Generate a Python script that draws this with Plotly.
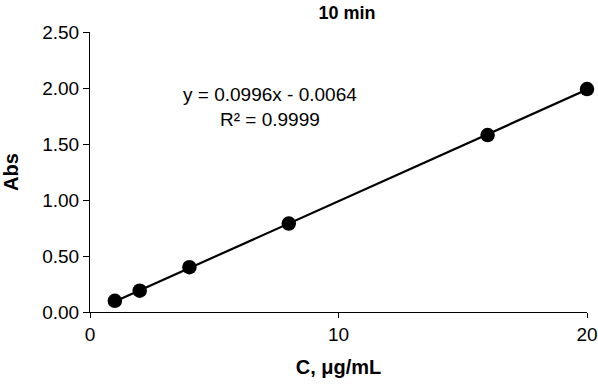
import plotly.graph_objects as go

conc = [1, 2, 4, 8, 16, 20]
absorb = [0.10, 0.19, 0.40, 0.79, 1.58, 1.99]
slope = 0.0996
intercept = -0.0064
r2 = 0.9999
title = "10 min"
x_title = "C, μg/mL"
y_title = "Abs"
x_ticks = [0, 10, 20]
y_ticks = [0, 0.5, 1.0, 1.5, 2.0, 2.5]

fit_x = [min(conc), max(conc)]
fit_y = [slope * v + intercept for v in fit_x]

W, H = 598, 385
ML, MR, MT, MB = 90, 11, 32, 73
PW, PH = W - ML - MR, H - MT - MB

fig = go.Figure()
fig.add_trace(go.Scatter(x=fit_x, y=fit_y, mode="lines",
                         line=dict(color="black", width=2.2), showlegend=False,
                         hoverinfo="skip", cliponaxis=False))
fig.add_trace(go.Scatter(x=conc, y=absorb, mode="markers",
                         marker=dict(color="black", size=14.5), showlegend=False,
                         cliponaxis=False))

font_family = "Liberation Sans, Arial, sans-serif"
fig.update_layout(
    width=W, height=H,
    margin=dict(l=ML, r=MR, t=MT, b=MB, autoexpand=False),
    paper_bgcolor="white", plot_bgcolor="white",
    font=dict(family=font_family, color="black", size=19),
    title=dict(text="<b>" + title + "</b>", x=347 / W, xanchor="center",
               xref="container", y=1 - 13 / H, yanchor="middle", yref="container",
               font=dict(size=18)),
    xaxis=dict(range=[0, 20], tickvals=x_ticks, ticks="outside", ticklen=5,
               tickcolor="black", showline=True, linecolor="black", linewidth=1,
               showgrid=False, zeroline=False, automargin=False,
               title=dict(text="<b>" + x_title + "</b>", font=dict(size=20), standoff=16),
               tickfont=dict(size=19)),
    yaxis=dict(range=[0, 2.5], tickvals=y_ticks, tickformat=".2f", ticks="outside",
               ticklen=6, tickcolor="black", showline=True, linecolor="black",
               linewidth=1, showgrid=False, zeroline=False, automargin=False,
               title=dict(text="<b>" + y_title + "</b>", font=dict(size=20), standoff=20),
               tickfont=dict(size=19)),
)
eq_text = f"y = {slope}x - {abs(intercept)}<br>R² = {r2}"
fig.add_annotation(x=(270 - ML) / PW, y=(H - MB - 107) / PH,
                   xref="paper", yref="paper",
                   text=eq_text, showarrow=False, xanchor="center", yanchor="middle",
                   align="center", font=dict(size=19))
fig.write_html("out.html", config={"displayModeBar": False},
               post_script="document.body.style.margin='0';")
